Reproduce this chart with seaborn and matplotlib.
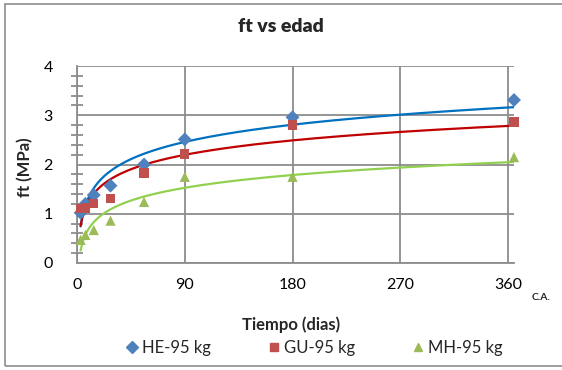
import numpy as np
import pandas as pd
import matplotlib
matplotlib.use("Agg")
import matplotlib.pyplot as plt
from matplotlib.patches import Rectangle
from matplotlib.lines import Line2D
from matplotlib.ticker import MultipleLocator
import seaborn as sns

# Curing age (days) and splitting tensile strength ft (MPa)
edad = [3, 7, 14, 28, 56, 90, 180, 365]
ft_he = [1.02, 1.20, 1.38, 1.57, 2.00, 2.51, 2.96, 3.31]
ft_gu = [1.11, 1.12, 1.21, 1.31, 1.83, 2.21, 2.80, 2.86]
ft_mh = [0.47, 0.57, 0.67, 0.86, 1.24, 1.75, 1.75, 2.15]
series = ["HE-95 kg", "GU-95 kg", "MH-95 kg"]
x_ticks = [0, 90, 180, 270, 360]
y_ticks = [0, 1, 2, 3, 4]

sns.set_theme(style="white")
plt.rcParams["font.family"] = ["Lato", "DejaVu Sans"]

df = pd.DataFrame({
    "edad": edad * 3,
    "ft": ft_he + ft_gu + ft_mh,
    "serie": [s for s in series for _ in edad],
})

marker_col = {"HE-95 kg": "#4F81BD", "GU-95 kg": "#C0504D", "MH-95 kg": "#9BBB59"}
trend_col = {"HE-95 kg": "#0070C0", "GU-95 kg": "#C00000", "MH-95 kg": "#92D050"}
markers = {"HE-95 kg": "D", "GU-95 kg": "s", "MH-95 kg": "^"}
msize = {"HE-95 kg": 50, "GU-95 kg": 46, "MH-95 kg": 54}

fig = plt.figure(figsize=(5.62, 3.70), dpi=100)
ax = fig.add_axes([77 / 562, 1 - 263 / 370, 437 / 562, 197 / 370])

grid_c = "#8C8C8C"
ax.set_xlim(0, 365)
ax.set_ylim(0, 4)
ax.set_xticks(x_ticks)
ax.set_yticks(y_ticks)
ax.yaxis.set_minor_locator(MultipleLocator(0.2))
ax.grid(True, which="major", color=grid_c, linewidth=1.3)
ax.set_axisbelow(True)
for side in ["top", "right"]:
    ax.spines[side].set_visible(False)
for side in ["left", "bottom"]:
    ax.spines[side].set_color(grid_c)
    ax.spines[side].set_linewidth(1.3)
ax.tick_params(axis="both", which="major", direction="inout", length=9,
               width=1.3, color=grid_c, labelsize=11.5, labelcolor="#000000")
ax.tick_params(axis="y", which="minor", direction="inout", length=8,
               width=1.3, color=grid_c, left=True)
ax.tick_params(axis="y", which="major", pad=13)
ax.tick_params(axis="x", which="major", pad=6)

# Logarithmic trendlines y = a ln(x) + b fitted to each series
xs = np.linspace(min(edad), max(edad), 300)
for s in series:
    sub = df[df["serie"] == s]
    a, b = np.polyfit(np.log(sub["edad"]), sub["ft"], 1)
    sns.lineplot(x=xs, y=a * np.log(xs) + b, ax=ax, color=trend_col[s],
                 linewidth=1.6, zorder=3)

for s in series:
    sub = df[df["serie"] == s]
    sns.scatterplot(data=sub, x="edad", y="ft", ax=ax, marker=markers[s],
                    color=marker_col[s], s=msize[s], edgecolor="none",
                    linewidth=0, zorder=4, clip_on=False)

ax.set_xlabel("")
ax.set_ylabel("")
fig.text(291 / 562, 1 - 325 / 370, "Tiempo (dias)", ha="center", va="center",
         fontsize=12, fontweight="bold")
fig.text(25 / 562, 1 - 167 / 370, "ft (MPa)", ha="center", va="center",
         rotation=90, fontsize=12, fontweight="bold")
fig.text(281 / 562, 1 - 27 / 370, "ft vs edad", ha="center", va="center",
         fontsize=14, fontweight="heavy")
fig.text(532 / 562, 1 - 298 / 370, "C.A.", ha="left", va="center",
         fontsize=7.5, fontweight="bold")

handles = [Line2D([], [], linestyle="none", marker=markers[s], color=marker_col[s],
                  markersize=6 if s != "GU-95 kg" else 5.5) for s in series]
fig.legend(handles, series, loc="center", bbox_to_anchor=(314 / 562, 1 - 348 / 370),
           ncol=3, frameon=False, fontsize=12, handletextpad=0.2,
           columnspacing=3.4, handlelength=0.8, borderpad=0)

# chart area border
fig.add_artist(Rectangle((5 / 562, 4 / 370), 1.2, 362 / 370, transform=fig.transFigure,
                         fill=False, edgecolor="#8C8C8C", linewidth=1.2))

fig.savefig("out.png", dpi=100)
